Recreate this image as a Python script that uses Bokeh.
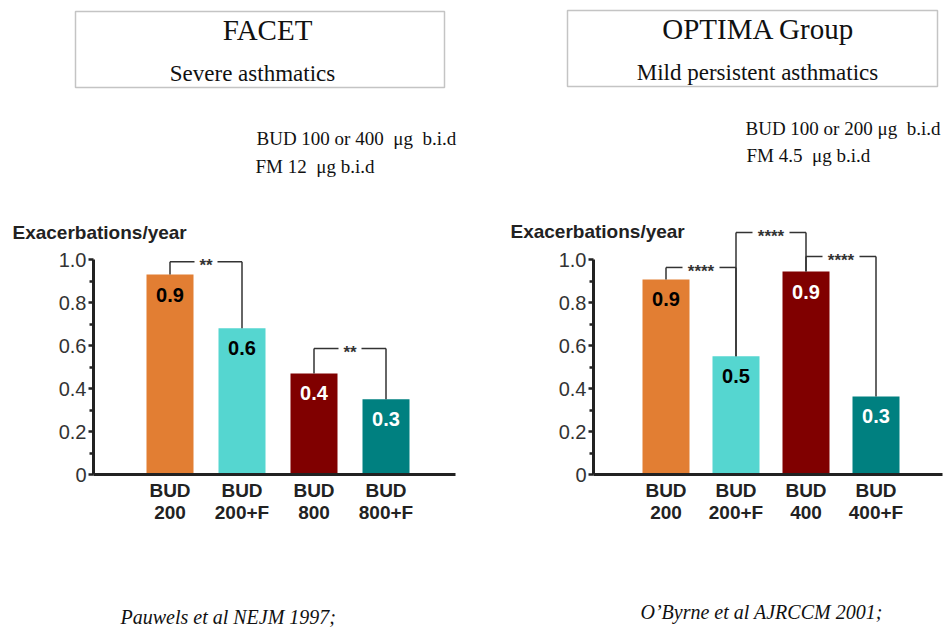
from bokeh.plotting import figure
from bokeh.models import Range1d, FixedTicker, ColumnDataSource
from bokeh.layouts import row
from bokeh.embed import file_html
from bokeh.resources import INLINE
from bokeh.core.properties import value

# ---------------- data ----------------
facet_groups = ["BUD\n200", "BUD\n200+F", "BUD\n800", "BUD\n800+F"]
facet_rates = [0.93, 0.68, 0.47, 0.35]
facet_value_labels = ["0.9", "0.6", "0.4", "0.3"]
facet_pairs = [(0, 1), (2, 3)]
facet_bracket_levels = [0.99, 0.586]
facet_stars = ["**", "**"]

optima_groups = ["BUD\n200", "BUD\n200+F", "BUD\n400", "BUD\n400+F"]
optima_rates = [0.907, 0.55, 0.944, 0.363]
optima_value_labels = ["0.9", "0.5", "0.9", "0.3"]
optima_pairs = [(0, 1), (1, 2), (2, 3)]
optima_bracket_levels = [0.963, 1.126, 1.014]
optima_stars = ["****", "****", "****"]

y_ticks = [0, 0.2, 0.4, 0.6, 0.8, 1.0]
y_tick_labels = ["0", "0.2", "0.4", "0.6", "0.8", "1.0"]
y_minor_ticks = [0.1, 0.3, 0.5, 0.7, 0.9]

# ---------------- styles ----------------
BAR_COLORS = ["#E27E33", "#55D6D0", "#800000", "#008080"]
VALUE_COLORS = ["#000000", "#000000", "#FFFFFF", "#FFFFFF"]
SANS = "Liberation Sans"
SERIF = "Liberation Serif"
H = 628
AXIS_Y = 474          # page y of value 0
PX_PER_UNIT = 215.0   # pixels per 1.0 exacerbation/year
NB = "\u00a0"


def panel(width, page_x0, frame_l, frame_r, c1, step, bar_px, groups, rates,
          vlabels, pairs, levels, stars, gap_px, header, dose, foot):
    ux = lambda px: 1 + (px - c1) / step
    uy = lambda py: (AXIS_Y - py) / PX_PER_UNIT

    p = figure(width=width, height=H, output_backend="svg", toolbar_location=None,
               title=None,
               x_range=Range1d(ux(page_x0), ux(page_x0 + width)),
               y_range=Range1d(uy(H), uy(0)),
               min_border=0, min_border_left=0, min_border_right=0,
               min_border_top=0, min_border_bottom=0)
    p.outline_line_color = None
    p.xgrid.visible = False
    p.ygrid.visible = False
    p.background_fill_color = "white"
    p.border_fill_color = "white"

    xs = list(range(1, len(groups) + 1))
    src = ColumnDataSource(dict(x=xs, top=rates, lab=vlabels,
                                color=BAR_COLORS, tcolor=VALUE_COLORS))
    p.vbar(x="x", top="top", width=bar_px / step, fill_color="color",
           line_color=None, source=src)
    p.text(x="x", y="top", text="lab", text_color="tcolor", source=src,
           text_align="center", text_baseline="middle", y_offset=20,
           text_font=value(SANS), text_font_style="bold", text_font_size="20px")

    # significance brackets
    x0s, y0s, x1s, y1s, sx, sy = [], [], [], [], [], []
    g = gap_px / step
    for (i, j), lev in zip(pairs, levels):
        xi, xj = xs[i], xs[j]
        mid = (xi + xj) / 2
        x0s += [xi, xj, xi, mid + g]
        y0s += [rates[i], rates[j], lev, lev]
        x1s += [xi, xj, mid - g, xj]
        y1s += [lev, lev, lev, lev]
        sx.append(mid)
        sy.append(lev)
    p.segment(x0=x0s, y0=y0s, x1=x1s, y1=y1s, line_color="#333333", line_width=1.5)
    p.text(x=sx, y=sy, text=stars, text_align="center", text_baseline="middle",
           y_offset=4, text_font=value(SANS), text_font_style="bold",
           text_font_size="17px", text_color="#333333")

    # axes (fixed inside the frame)
    p.yaxis.fixed_location = ux(frame_l)
    p.yaxis.ticker = FixedTicker(ticks=y_ticks, minor_ticks=y_minor_ticks)
    p.yaxis.major_label_overrides = {t: l for t, l in zip(y_ticks, y_tick_labels)}
    p.yaxis.bounds = (0, 1.0)
    p.yaxis.axis_line_width = 3
    p.yaxis.axis_line_color = "#222222"
    p.yaxis.major_tick_in = 0
    p.yaxis.major_tick_out = 5
    p.yaxis.minor_tick_in = 0
    p.yaxis.minor_tick_out = 4
    p.yaxis.major_tick_line_width = 2.5
    p.yaxis.minor_tick_line_width = 2.5
    p.yaxis.major_tick_line_color = "#222222"
    p.yaxis.minor_tick_line_color = "#222222"
    p.yaxis.major_label_standoff = 2
    p.yaxis.major_label_text_font = SANS
    p.yaxis.major_label_text_font_size = "20px"
    p.yaxis.major_label_text_color = "#333333"

    p.xaxis.fixed_location = 0
    p.xaxis.bounds = (ux(frame_l), ux(frame_r))
    p.xaxis.ticker = FixedTicker(ticks=xs, minor_ticks=[])
    p.xaxis.major_label_overrides = {x: gname for x, gname in zip(xs, groups)}
    p.xaxis.axis_line_width = 3
    p.xaxis.axis_line_color = "#222222"
    p.xaxis.major_tick_in = 0
    p.xaxis.major_tick_out = 0
    p.xaxis.major_label_standoff = 5
    p.xaxis.major_label_text_font = SANS
    p.xaxis.major_label_text_font_style = "bold"
    p.xaxis.major_label_text_font_size = "19px"
    p.xaxis.major_label_text_line_height = 1.05
    p.xaxis.major_label_text_color = "#222222"

    def txt(t, px, py, font, size, style="normal", align="left", color="#111111"):
        p.text(x=[ux(px)], y=[uy(py)], text=[t], text_font=value(font),
               text_font_size=size, text_font_style=style, text_align=align,
               text_baseline="middle", text_color=color)

    # y title
    txt("Exacerbations/year", header["ytitle_x"], header["ytitle_y"], SANS, "19px",
        "bold", "left", "#222222")

    # header box
    bl, br, bt, bb = header["box"]
    p.quad(left=[ux(bl)], right=[ux(br)], top=[uy(bt)], bottom=[uy(bb)],
           fill_color=None, line_color="#C4C4C4", line_width=1.5)
    tx, ty = header["title_pos"]
    txt(header["title"], tx, ty, SERIF, "29px", align="center")
    sx_, sy_ = header["sub_pos"]
    txt(header["sub"], sx_, sy_, SERIF, "23px", align="center")
    for (t, (dx, dy)) in dose:
        txt(t, dx, dy, SERIF, "19px")
    ftxt, (fx, fy) = foot
    txt(ftxt, fx, fy, SERIF, "20px", style="italic")
    return p


left = panel(480, 0, 93, 455, 169.5, 72, 47, facet_groups, facet_rates,
             facet_value_labels, facet_pairs, facet_bracket_levels, facet_stars, 11.5,
             dict(ytitle_x=12, ytitle_y=232, box=(75, 444, 11, 87),
                  title="FACET", title_pos=(267, 29),
                  sub="Severe asthmatics", sub_pos=(252, 73)),
             [("BUD 100 or 400" + NB + " \u03bcg" + NB + " b.i.d", (256, 138)),
              ("FM 12" + NB + " \u03bcg b.i.d", (255, 166))],
             ("Pauwels et al NEJM 1997;", (120, 616)))

right = panel(469, 480, 593, 942, 665.5, 70, 47, optima_groups, optima_rates,
              optima_value_labels, optima_pairs, optima_bracket_levels, optima_stars, 18.5,
              dict(ytitle_x=510, ytitle_y=231, box=(567, 937, 10, 86),
                   title="OPTIMA Group", title_pos=(758, 28),
                   sub="Mild persistent asthmatics", sub_pos=(757, 72)),
              [("BUD 100 or 200 \u03bcg" + NB + " b.i.d", (745, 128)),
               ("FM 4.5" + NB + " \u03bcg b.i.d", (746, 155))],
              ("O\u2019Byrne et al AJRCCM 2001;", (640, 611)))

layout = row(left, right)
open("out.html", "w").write(file_html(layout, INLINE))
